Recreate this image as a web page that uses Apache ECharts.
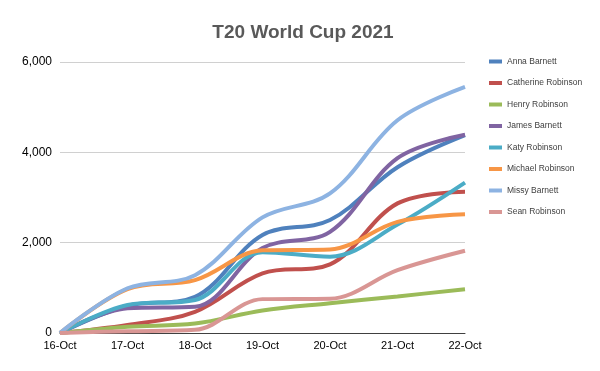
<!DOCTYPE html>
<html><head><meta charset="utf-8">
<script src="https://cdn.jsdelivr.net/npm/echarts@6/dist/echarts.min.js"></script>
<style>html,body{margin:0;padding:0;background:#fff}#c{width:600px;height:371px}</style>
</head><body><div id="c"></div>
<script>
const categories = ['16-Oct','17-Oct','18-Oct','19-Oct','20-Oct','21-Oct','22-Oct'];
const annaBarnett = [0, 600, 800, 2170, 2500, 3670, 4380];
const catherineRobinson = [0, 180, 470, 1320, 1520, 2870, 3130];
const henryRobinson = [0, 140, 210, 500, 660, 810, 970];
const jamesBarnett = [0, 550, 580, 1880, 2240, 3870, 4390];
const katyRobinson = [0, 620, 730, 1790, 1690, 2400, 3330];
const michaelRobinson = [0, 970, 1170, 1830, 1850, 2460, 2630];
const missyBarnett = [0, 990, 1280, 2560, 3090, 4710, 5450];
const seanRobinson = [0, 40, 70, 750, 760, 1390, 1820];
const seriesNames = ['Anna Barnett','Catherine Robinson','Henry Robinson','James Barnett','Katy Robinson','Michael Robinson','Missy Barnett','Sean Robinson'];
const seriesData = [annaBarnett, catherineRobinson, henryRobinson, jamesBarnett, katyRobinson, michaelRobinson, missyBarnett, seanRobinson];
const colors = ['#4F81BD','#C0504D','#9BBB59','#8064A2','#4BACC6','#F79646','#8DB3E2','#D99694'];

const chart = echarts.init(document.getElementById('c'));
chart.setOption({
  animation: false,
  color: colors,
  title: { text: 'T20 World Cup 2021', left: 298, top: 18, textAlign: 'center',
    textStyle: { fontFamily: 'Liberation Sans, Arial', fontSize: 19, fontWeight: 'bold', color: '#595959' } },
  legend: {
    orient: 'vertical', left: 484, top: 52, itemGap: 12.5, itemWidth: 13, itemHeight: 4,
    icon: 'rect',
    textStyle: { fontFamily: 'Liberation Sans, Arial', fontSize: 8.5, color: '#404040' },
    data: seriesNames
  },
  grid: { left: 60, right: 135, top: 62, bottom: 38 },
  xAxis: {
    type: 'category', data: categories, boundaryGap: false,
    axisLine: { lineStyle: { color: '#404040', width: 1 } },
    axisTick: { show: false },
    axisLabel: { fontFamily: 'Liberation Sans, Arial', fontSize: 11, color: '#000', margin: 7 }
  },
  yAxis: {
    type: 'value', min: 0, max: 6000, interval: 2000,
    axisLine: { show: false }, axisTick: { show: false },
    axisLabel: { fontFamily: 'Liberation Sans, Arial', fontSize: 12, color: '#000', margin: 8,
      formatter: v => v.toLocaleString('en-US') },
    splitLine: { lineStyle: { color: '#D0D0D0', width: 1 } }
  },
  series: seriesNames.map((n, i) => ({
    name: n, type: 'line', data: seriesData[i], smooth: 0.35, symbol: 'none',
    lineStyle: { width: 4, color: colors[i] }
  }))
});
</script></body></html>
